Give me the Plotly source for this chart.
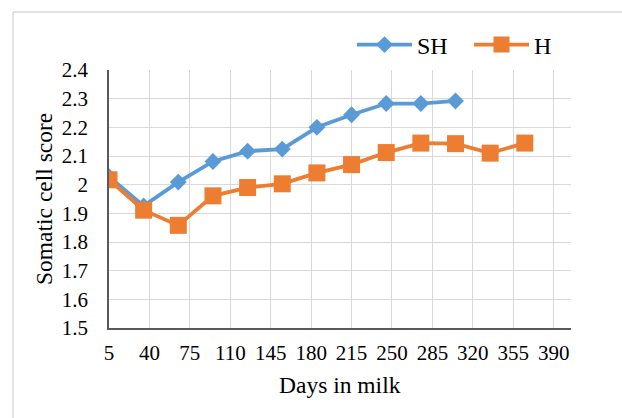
import plotly.graph_objects as go

# ---- data ----
days_sh = [5, 35, 65, 95, 125, 155, 185, 215, 245, 275, 305]
scc_sh = [2.028, 1.926, 2.009, 2.081, 2.117, 2.124, 2.200, 2.244, 2.283, 2.283, 2.292]

days_h = [5, 35, 65, 95, 125, 155, 185, 215, 245, 275, 305, 335, 365]
scc_h = [2.017, 1.911, 1.858, 1.961, 1.990, 2.003, 2.041, 2.070, 2.112, 2.145, 2.143, 2.110, 2.145]

x_ticks = [5, 40, 75, 110, 145, 180, 215, 250, 285, 320, 355, 390]
y_ticks = [1.5, 1.6, 1.7, 1.8, 1.9, 2.0, 2.1, 2.2, 2.3, 2.4]
y_tick_labels = ["1.5", "1.6", "1.7", "1.8", "1.9", "2", "2.1", "2.2", "2.3", "2.4"]

BLUE = "#5B9BD5"
ORANGE = "#ED7D31"
FONT = "Liberation Serif"

fig = go.Figure()
fig.add_trace(go.Scatter(
    x=days_sh, y=scc_sh, name="SH", mode="lines+markers",
    line=dict(color=BLUE, width=3.8),
    marker=dict(symbol="diamond", size=13, color=BLUE),
))
fig.add_trace(go.Scatter(
    x=days_h, y=scc_h, name="H", mode="lines+markers",
    line=dict(color=ORANGE, width=3.8),
    marker=dict(symbol="square", size=17, color=ORANGE),
))

W, H = 622, 418
L, R, T, B = 109, 51, 70, 90
pw, ph = W - L - R, H - T - B

def px(x):
    return (x - L) / pw

def py(y):
    return (H - B - y) / ph

fig.update_layout(
    width=W, height=H,
    margin=dict(l=L, r=R, t=T, b=B, autoexpand=False),
    paper_bgcolor="white", plot_bgcolor="white",
    font=dict(family=FONT, color="#000000", size=21),
    showlegend=True,
    legend=dict(
        orientation="h", x=px(352), xanchor="left", y=py(45), yanchor="middle",
        font=dict(family=FONT, size=24, color="#000000"),
        itemwidth=55, entrywidth=47, entrywidthmode="pixels",
        bgcolor="rgba(0,0,0,0)", tracegroupgap=0,
    ),
    xaxis=dict(
        range=[5, 405], tickmode="array", tickvals=x_ticks,
        showgrid=True, gridcolor="#D9D9D9", gridwidth=1,
        showline=True, linecolor="#595959", linewidth=1.5,
        ticks="", zeroline=False, ticklabelstandoff=5,
        tickfont=dict(family=FONT, size=21, color="#000000"),
    ),
    yaxis=dict(
        range=[1.5, 2.4], tickmode="array", tickvals=y_ticks, ticktext=y_tick_labels,
        showgrid=True, gridcolor="#D9D9D9", gridwidth=1,
        showline=True, linecolor="#595959", linewidth=1.5,
        ticks="", zeroline=False, ticklabelstandoff=15,
        tickfont=dict(family=FONT, size=21, color="#000000"),
    ),
    annotations=[
        dict(text="Days in milk", x=0.5, y=py(385), xref="paper", yref="paper",
             xanchor="center", yanchor="middle", showarrow=False,
             font=dict(family=FONT, size=23.5, color="#000000")),
        dict(text="Somatic cell score", x=px(44), y=0.5, xref="paper", yref="paper",
             xanchor="center", yanchor="middle", showarrow=False, textangle=-90,
             font=dict(family=FONT, size=23.5, color="#000000")),
    ],
    shapes=[
        dict(type="line", xref="paper", yref="paper", x0=px(13), x1=px(W), y0=py(12), y1=py(12),
             line=dict(color="#D9D9D9", width=1.5)),
        dict(type="line", xref="paper", yref="paper", x0=px(13), x1=px(13), y0=py(12), y1=py(H),
             line=dict(color="#D9D9D9", width=1.5)),
    ],
)

fig.write_html("out.html")
